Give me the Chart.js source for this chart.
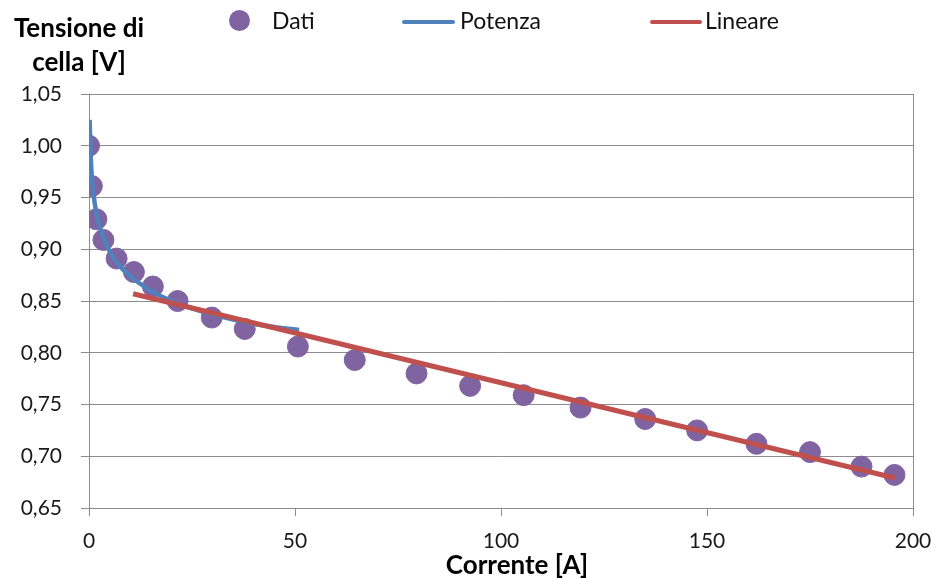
<!DOCTYPE html>
<html>
<head>
<meta charset="utf-8">
<script src="https://cdn.jsdelivr.net/npm/chart.js@4.4.1/dist/chart.umd.min.js"></script>
<style>
  html, body { margin: 0; padding: 0; background: #fff; }
  #wrap { position: relative; width: 937px; height: 578px; font-family: Lato, "Open Sans", sans-serif; }
  #myChart { position: absolute; left: 0; top: 0; }
  .ytitle { position: absolute; left: 0; top: 10px; width: 158px; text-align: center; font-weight: bold; font-size: 26px; line-height: 34px; color: #000; }
  .xtitle { position: absolute; left: 402px; top: 548px; width: 230px; text-align: center; font-weight: bold; font-size: 26px; color: #000; }
  .leg { position: absolute; top: 6px; font-size: 23px; color: #111; white-space: nowrap; }
  .leg .dot { position: absolute; width: 21px; height: 21px; border-radius: 50%; top: 4px; }
  .leg .bar { position: absolute; height: 4px; border-radius: 2px; top: 14px; }
</style>
</head>
<body>
<div id="wrap">
  <canvas id="myChart" width="937" height="578"></canvas>
  <div class="ytitle">Tensione di<br>cella [V]</div>
  <div class="xtitle">Corrente [A]</div>
  <div id="legend"></div>
</div>
<script>
// dati misurati
var corrente = [0, 0.7, 1.8, 3.5, 6.7, 10.9, 15.5, 21.5, 29.8, 37.8, 50.7, 64.5, 79.5, 92.5, 105.5, 119.3, 135, 147.6, 162, 175, 187.5, 195.5];
var tensione = [1.000, 0.961, 0.929, 0.909, 0.891, 0.878, 0.864, 0.850, 0.834, 0.823, 0.806, 0.793, 0.780, 0.768, 0.759, 0.747, 0.736, 0.725, 0.712, 0.704, 0.690, 0.682];

// curva di tendenza potenza
var potenzaX = [0.15, 0.5, 1, 2, 3, 5, 7, 10, 15, 20, 25, 30, 35, 40, 45, 51];
var potenzaY = [1.025, 0.982, 0.956, 0.931, 0.917, 0.898, 0.886, 0.874, 0.860, 0.850, 0.843, 0.837, 0.832, 0.828, 0.825, 0.822];

// retta di tendenza lineare
var lineareX = [10.7, 195.6];
var lineareY = [0.857, 0.679];

var xTicks = [0, 50, 100, 150, 200];

var viola = '#8064A2', blu = '#4F81BD', rosso = '#C0504D';

function toPoints(xs, ys){
  var res = [];
  for (var i = 0; i < xs.length; i++){
    res.push({x: xs[i], y: ys[i]});
  }
  return res;
}

var ctx = document.getElementById("myChart");
var grigio = '#8c8c8c';

var myChart = new Chart(ctx, {
  type: 'scatter',
  data: {
    datasets: [{
      label: 'Dati',
      data: toPoints(corrente, tensione),
      backgroundColor: viola,
      borderColor: viola,
      pointRadius: 10.5,
      pointHoverRadius: 10.5,
      order: 3
    }, {
      type: 'line',
      label: 'Potenza',
      data: toPoints(potenzaX, potenzaY),
      borderColor: blu,
      borderWidth: 4.5,
      pointRadius: 0,
      cubicInterpolationMode: 'monotone',
      fill: false,
      order: 2
    }, {
      type: 'line',
      label: 'Lineare',
      data: toPoints(lineareX, lineareY),
      borderColor: rosso,
      borderWidth: 5,
      pointRadius: 0,
      fill: false,
      order: 1
    }]
  },
  options: {
    responsive: false,
    animation: false,
    layout: { padding: { left: 0, top: 94, right: 24, bottom: 0 } },
    plugins: { legend: { display: false }, tooltip: { enabled: false } },
    scales: {
      x: {
        type: 'linear',
        min: 0, max: 200,
        afterBuildTicks: function(scale){
          scale.ticks = xTicks.map(function(v){ return {value: v}; });
        },
        afterFit: function(scale){
          scale.height = 70;
          scale.paddingLeft = 0;
          scale.paddingRight = 0;
        },
        grid: {
          color: function(c){ return (c.tick && (c.tick.value === 0 || c.tick.value === 200)) ? grigio : 'rgba(0,0,0,0)'; },
          tickColor: grigio,
          tickLength: 8,
          lineWidth: 1
        },
        border: { display: true, color: grigio },
        ticks: {
          padding: 13,
          color: '#1a1a1a',
          font: { family: 'Lato', size: 21 },
          maxRotation: 0
        }
      },
      y: {
        min: 0.65, max: 1.05,
        afterFit: function(scale){
          scale.width = 89;
          scale.paddingTop = 0;
          scale.paddingBottom = 0;
        },
        grid: { color: grigio, tickColor: grigio, tickLength: 8, lineWidth: 1 },
        border: { display: true, color: grigio },
        ticks: {
          stepSize: 0.05,
          padding: 19,
          color: '#1a1a1a',
          font: { family: 'Lato', size: 21 },
          callback: function(v){ return Number(v).toFixed(2).replace('.', ','); }
        }
      }
    }
  }
});

// legenda html
var legendPos = [
  {sym: 229, text: 272, w: 21},
  {sym: 402, text: 460, w: 53},
  {sym: 650, text: 705, w: 52}
];
var legend = document.getElementById('legend');
myChart.data.datasets.forEach(function(ds, i){
  var p = legendPos[i];
  var it = document.createElement('div');
  it.className = 'leg';
  it.style.left = p.sym + 'px';
  var s = document.createElement('span');
  s.className = i === 0 ? 'dot' : 'bar';
  s.style.left = '0px';
  s.style.width = p.w + 'px';
  s.style.background = ds.borderColor;
  it.appendChild(s);
  var t = document.createElement('span');
  t.textContent = ds.label;
  t.style.position = 'absolute';
  t.style.left = (p.text - p.sym) + 'px';
  t.style.top = '0px';
  it.appendChild(t);
  legend.appendChild(it);
});
</script>
</body>
</html>
